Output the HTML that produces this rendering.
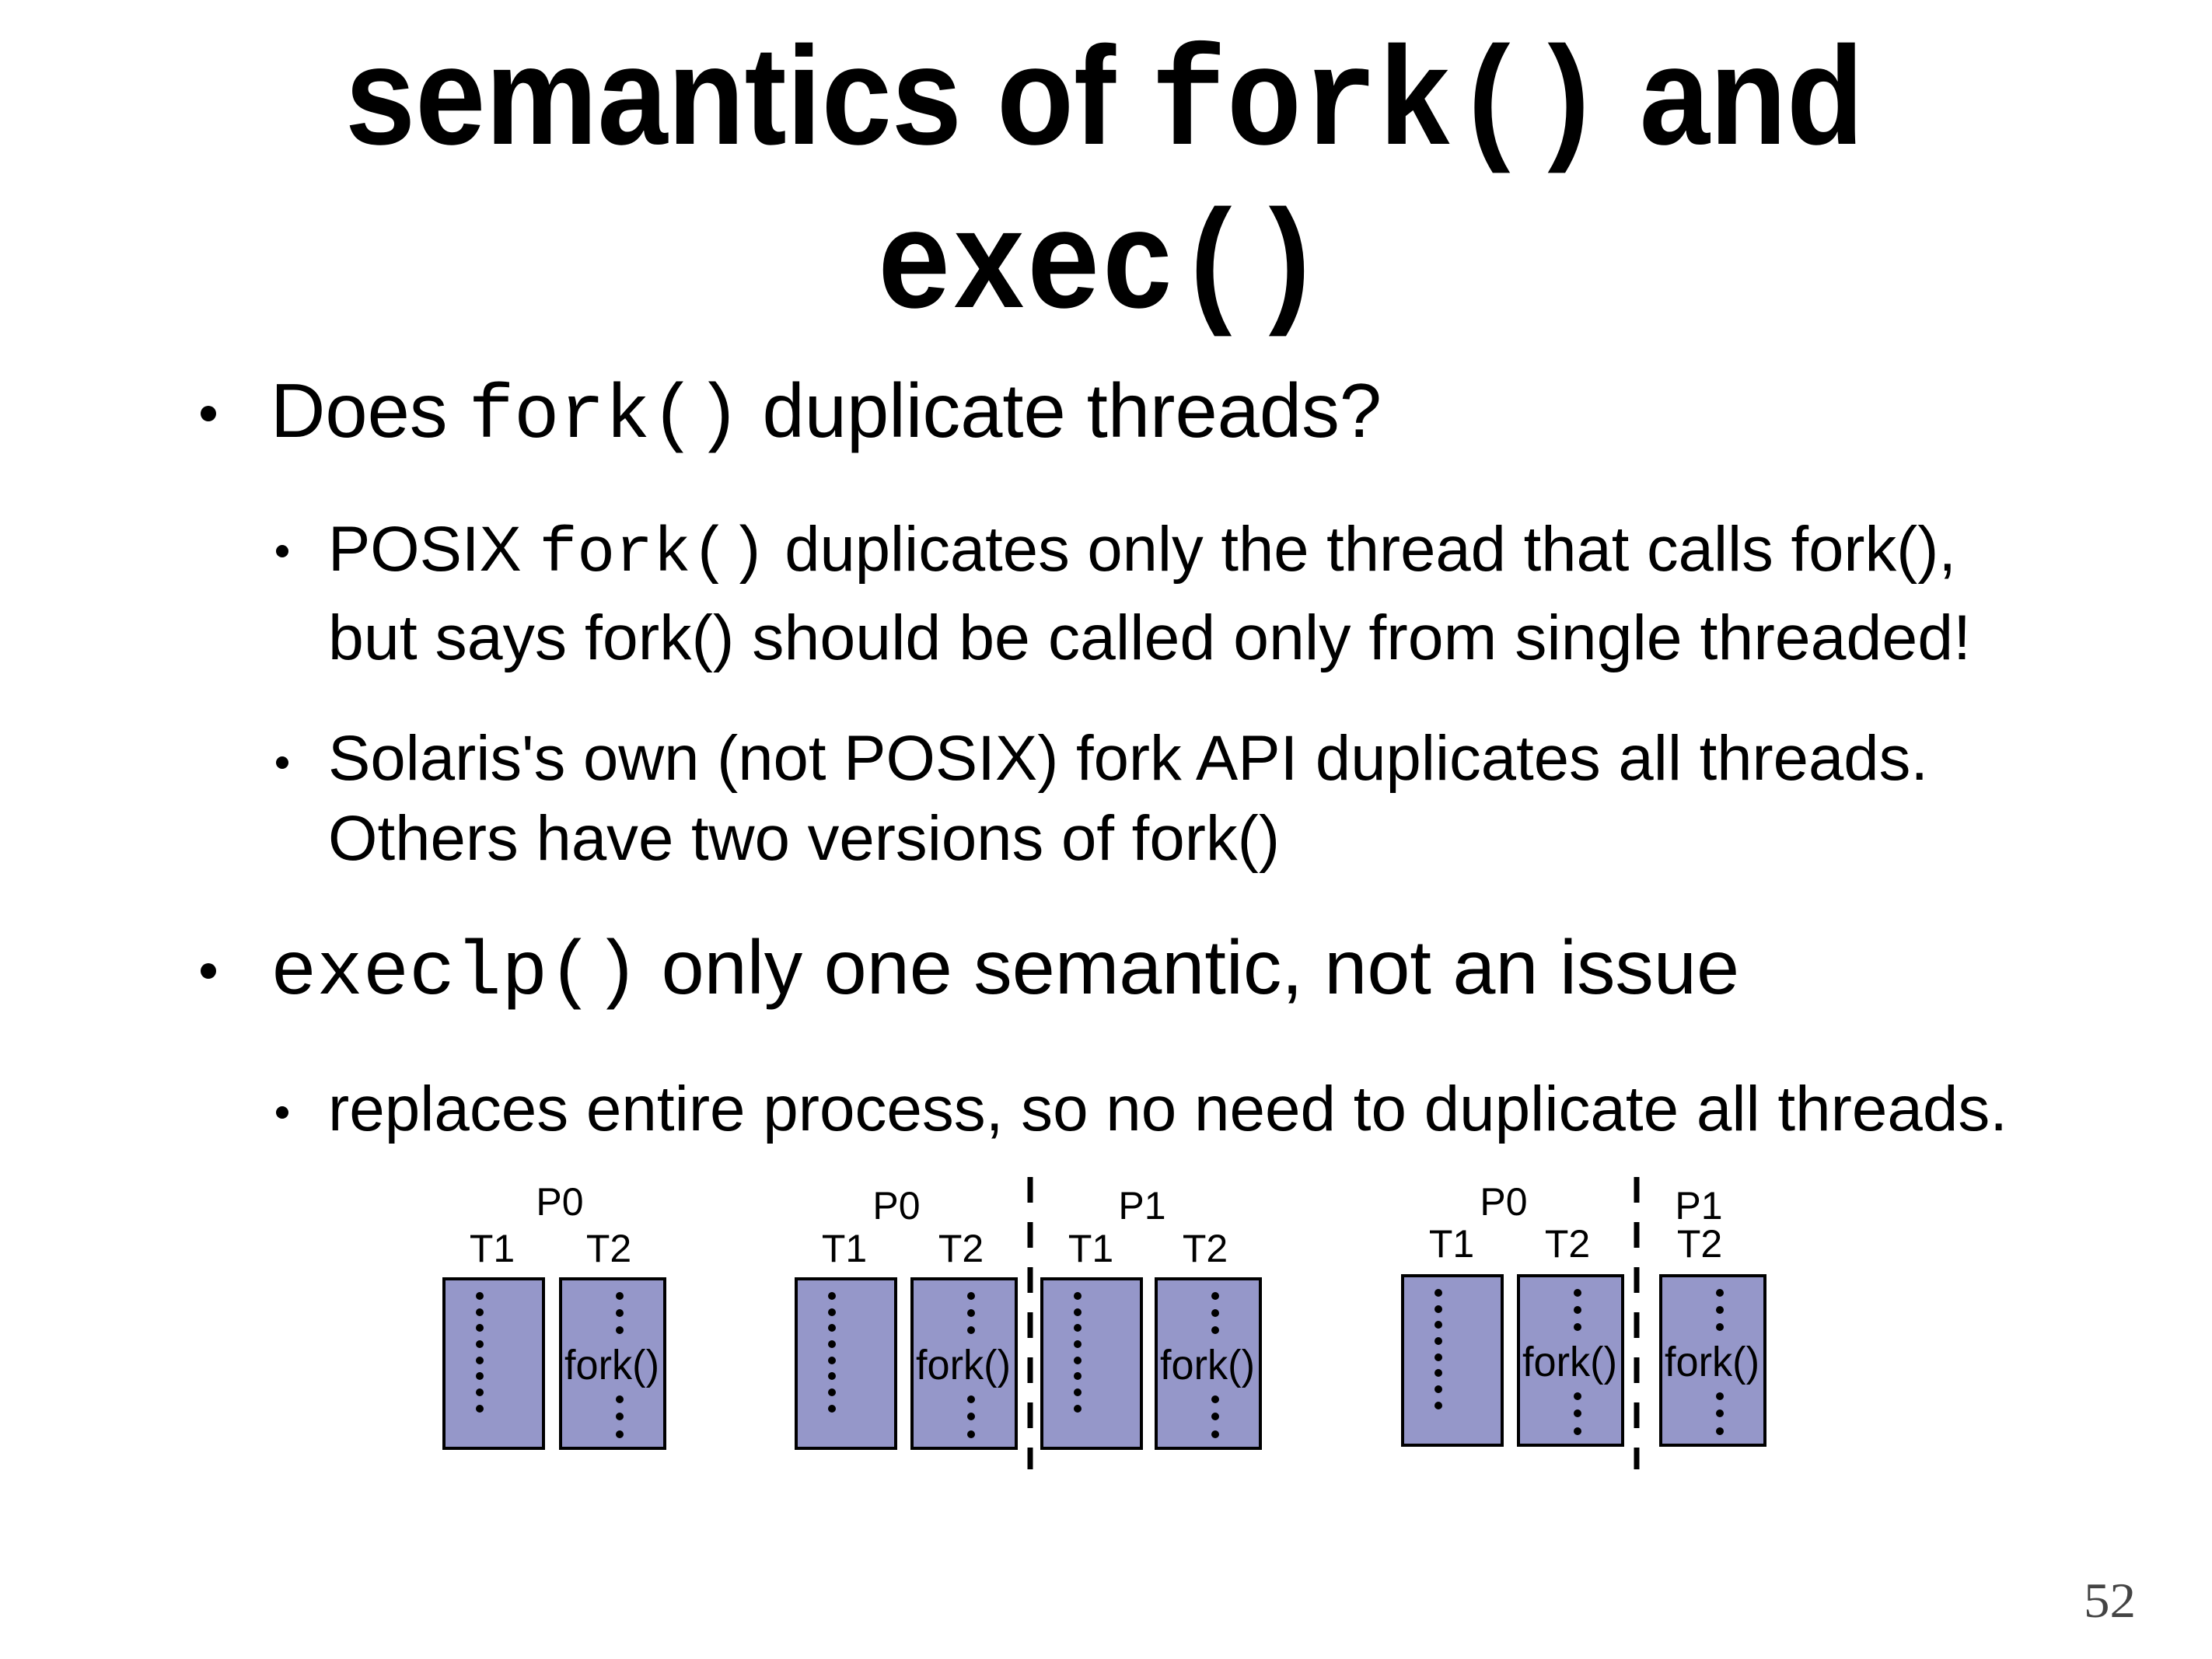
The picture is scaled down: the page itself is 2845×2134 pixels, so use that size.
<!DOCTYPE html>
<html><head><meta charset="utf-8"><style>
html,body{margin:0;padding:0;background:#fff;}
svg{display:block}
.t{font-family:"Liberation Sans",sans-serif;font-weight:bold;fill:#000}
.m{font-family:"Liberation Mono",monospace;}
.b{font-family:"Liberation Sans",sans-serif;fill:#000}
.l{font-family:"Liberation Sans",sans-serif;fill:#000;font-size:50px;text-anchor:middle}
.f{font-family:"Liberation Sans",sans-serif;fill:#000;font-size:54px}
.box{fill:#9597c9;stroke:#000;stroke-width:4}
.dl{stroke:#000;stroke-width:7;stroke-dasharray:33 25}
</style></head><body>
<svg width="2845" height="2134" viewBox="0 0 2845 2134" xmlns="http://www.w3.org/2000/svg">
<text class="t" x="444" y="185" font-size="180" textLength="1953" lengthAdjust="spacingAndGlyphs">semantics of <tspan class="m">fork()</tspan> and</text>
<text class="t" x="1128" y="395" font-size="180" textLength="576" lengthAdjust="spacingAndGlyphs"><tspan class="m">exec()</tspan></text>

<circle cx="268" cy="532" r="10"/>
<text class="b" x="348" y="562" font-size="98" textLength="1429" lengthAdjust="spacingAndGlyphs">Does <tspan class="m">fork()</tspan> duplicate threads?</text>
<circle cx="363" cy="709" r="8"/>
<text class="b" x="422" y="734" font-size="82" textLength="2094" lengthAdjust="spacingAndGlyphs">POSIX <tspan class="m">fork()</tspan> duplicates only the thread that calls fork(),</text>
<text class="b" x="422" y="848" font-size="82" textLength="2113" lengthAdjust="spacingAndGlyphs">but says fork() should be called only from single threaded!</text>
<circle cx="363" cy="981" r="8"/>
<text class="b" x="422" y="1003" font-size="82" textLength="2058" lengthAdjust="spacingAndGlyphs">Solaris's own (not POSIX) fork API duplicates all threads.</text>
<text class="b" x="422" y="1106" font-size="82" textLength="1224" lengthAdjust="spacingAndGlyphs">Others have two versions of fork()</text>
<circle cx="268" cy="1249" r="10"/>
<text class="b" x="348" y="1278" font-size="98" textLength="1889" lengthAdjust="spacingAndGlyphs"><tspan class="m">execlp()</tspan> only one semantic, not an issue</text>
<circle cx="363" cy="1431" r="8"/>
<text class="b" x="422" y="1454" font-size="82" textLength="2160" lengthAdjust="spacingAndGlyphs">replaces entire process, so no need to duplicate all threads.</text>

<text x="2680" y="2080" font-family="Liberation Serif,serif" font-size="64" fill="#444" textLength="67" lengthAdjust="spacingAndGlyphs">52</text>

<text class="l" x="720" y="1563">P0</text>
<text class="l" x="633" y="1623">T1</text><text class="l" x="783" y="1623">T2</text>
<text class="l" x="1153" y="1568">P0</text><text class="l" x="1469" y="1568">P1</text>
<text class="l" x="1086" y="1623">T1</text><text class="l" x="1236" y="1623">T2</text>
<text class="l" x="1403" y="1623">T1</text><text class="l" x="1550" y="1623">T2</text>
<text class="l" x="1934" y="1563">P0</text><text class="l" x="2185" y="1568">P1</text>
<text class="l" x="1867" y="1617">T1</text><text class="l" x="2016" y="1617">T2</text><text class="l" x="2186" y="1617">T2</text>

<line class="dl" x1="1325" y1="1514" x2="1325" y2="1890"/>
<line class="dl" x1="2105" y1="1514" x2="2105" y2="1890"/>

<g transform="translate(571,1645)"><rect class="box" width="128" height="218"/>
<circle cx="46" cy="22" r="5"/><circle cx="46" cy="43" r="5"/><circle cx="46" cy="63" r="5"/><circle cx="46" cy="84" r="5"/><circle cx="46" cy="105" r="5"/><circle cx="46" cy="125" r="5"/><circle cx="46" cy="146" r="5"/><circle cx="46" cy="167" r="5"/></g>
<g transform="translate(721,1645)"><rect class="box" width="134" height="218"/>
<circle cx="76" cy="22" r="5"/><circle cx="76" cy="44" r="5"/><circle cx="76" cy="66" r="5"/>
<text class="f" x="5" y="129" textLength="122" lengthAdjust="spacingAndGlyphs">fork()</text>
<circle cx="76" cy="155" r="5"/><circle cx="76" cy="177" r="5"/><circle cx="76" cy="200" r="5"/></g>
<g transform="translate(1024,1645)"><rect class="box" width="128" height="218"/>
<circle cx="46" cy="22" r="5"/><circle cx="46" cy="43" r="5"/><circle cx="46" cy="63" r="5"/><circle cx="46" cy="84" r="5"/><circle cx="46" cy="105" r="5"/><circle cx="46" cy="125" r="5"/><circle cx="46" cy="146" r="5"/><circle cx="46" cy="167" r="5"/></g>
<g transform="translate(1173,1645)"><rect class="box" width="134" height="218"/>
<circle cx="76" cy="22" r="5"/><circle cx="76" cy="44" r="5"/><circle cx="76" cy="66" r="5"/>
<text class="f" x="5" y="129" textLength="122" lengthAdjust="spacingAndGlyphs">fork()</text>
<circle cx="76" cy="155" r="5"/><circle cx="76" cy="177" r="5"/><circle cx="76" cy="200" r="5"/></g>
<g transform="translate(1340,1645)"><rect class="box" width="128" height="218"/>
<circle cx="46" cy="22" r="5"/><circle cx="46" cy="43" r="5"/><circle cx="46" cy="63" r="5"/><circle cx="46" cy="84" r="5"/><circle cx="46" cy="105" r="5"/><circle cx="46" cy="125" r="5"/><circle cx="46" cy="146" r="5"/><circle cx="46" cy="167" r="5"/></g>
<g transform="translate(1487,1645)"><rect class="box" width="134" height="218"/>
<circle cx="76" cy="22" r="5"/><circle cx="76" cy="44" r="5"/><circle cx="76" cy="66" r="5"/>
<text class="f" x="5" y="129" textLength="122" lengthAdjust="spacingAndGlyphs">fork()</text>
<circle cx="76" cy="155" r="5"/><circle cx="76" cy="177" r="5"/><circle cx="76" cy="200" r="5"/></g>
<g transform="translate(1804,1641)"><rect class="box" width="128" height="218"/>
<circle cx="46" cy="22" r="5"/><circle cx="46" cy="43" r="5"/><circle cx="46" cy="63" r="5"/><circle cx="46" cy="84" r="5"/><circle cx="46" cy="105" r="5"/><circle cx="46" cy="125" r="5"/><circle cx="46" cy="146" r="5"/><circle cx="46" cy="167" r="5"/></g>
<g transform="translate(1953,1641)"><rect class="box" width="134" height="218"/>
<circle cx="76" cy="22" r="5"/><circle cx="76" cy="44" r="5"/><circle cx="76" cy="66" r="5"/>
<text class="f" x="5" y="129" textLength="122" lengthAdjust="spacingAndGlyphs">fork()</text>
<circle cx="76" cy="155" r="5"/><circle cx="76" cy="177" r="5"/><circle cx="76" cy="200" r="5"/></g>
<g transform="translate(2136,1641)"><rect class="box" width="134" height="218"/>
<circle cx="76" cy="22" r="5"/><circle cx="76" cy="44" r="5"/><circle cx="76" cy="66" r="5"/>
<text class="f" x="5" y="129" textLength="122" lengthAdjust="spacingAndGlyphs">fork()</text>
<circle cx="76" cy="155" r="5"/><circle cx="76" cy="177" r="5"/><circle cx="76" cy="200" r="5"/></g>
</svg>
</body></html>
